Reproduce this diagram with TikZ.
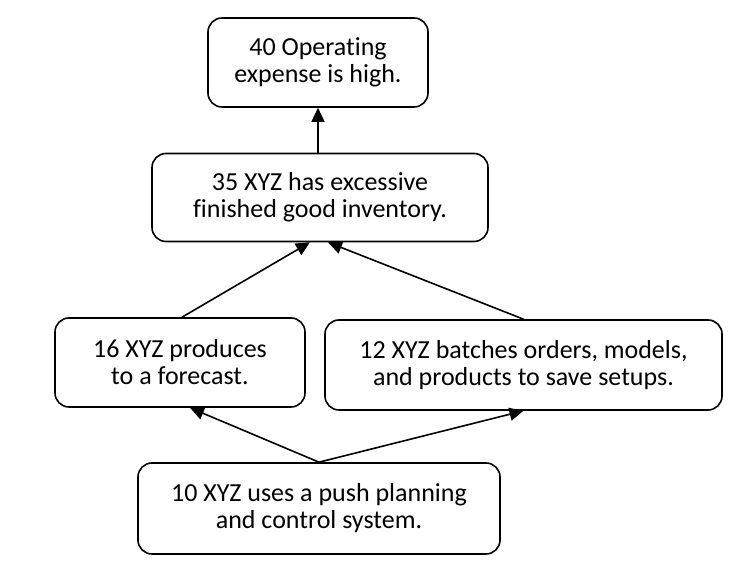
\documentclass[tikz,border=0pt]{standalone}
\usepackage{fontspec}
\setmainfont{Carlito}[Ligatures=NoCommon]
\usetikzlibrary{arrows.meta}
\begin{document}
\begin{tikzpicture}[x=1pt,y=1pt,line width=1.6pt,
  >={Triangle[length=14pt,width=13pt]},
  cause/.style={draw,rounded corners=14pt,align=center,inner sep=0pt,
    font=\fontsize{26}{27}\selectfont}]
  \useasboundingbox (0,0) rectangle (756,567);
  \node[cause,minimum width=220pt,minimum height=89pt] (expense) at (318,504.5) {40 Operating\\expense is high.};
  \node[cause,minimum width=336pt,minimum height=88pt] (inventory) at (320,369.5) {35 XYZ has excessive\\finished good inventory.};
  \node[cause,minimum width=250pt,minimum height=89pt] (forecast) at (180,204.5) {16 XYZ produces\\to a forecast.};
  \node[cause,minimum width=397pt,minimum height=90pt] (batches) at (523.5,202) {12 XYZ batches orders, models,\\and products to save setups.};
  \node[cause,minimum width=362pt,minimum height=91pt] (push) at (319,58.5) {10 XYZ uses a push planning\\and control system.};
  \draw[->] (push.north) -- ([xshift=10pt]forecast.south);
  \draw[->] (push.north) -- (batches.south);
  \draw[->] ([xshift=2pt]forecast.north) -- ([xshift=-10pt]inventory.south);
  \draw[->] (batches.north) -- ([xshift=8pt]inventory.south);
  \draw[->] (expense.south |- inventory.north) -- (expense.south);
\end{tikzpicture}
\end{document}
